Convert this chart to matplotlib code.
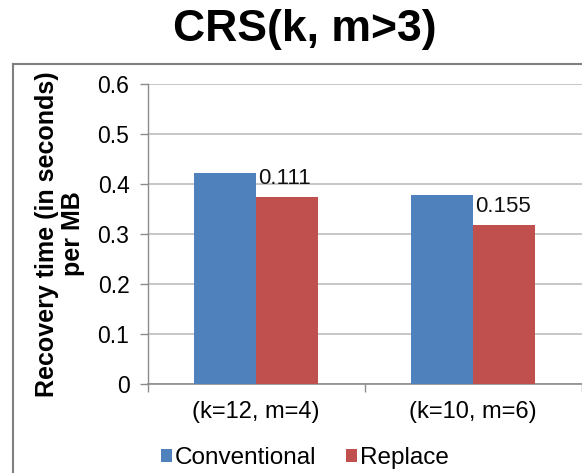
import numpy as np
import matplotlib
matplotlib.use("Agg")
import matplotlib.pyplot as plt
from matplotlib.lines import Line2D

plt.rcParams['font.family'] = ['Liberation Sans', 'DejaVu Sans']

groups = ['(k=12, m=4)', '(k=10, m=6)']
conventional = [0.423, 0.379]
replace = [0.374, 0.318]
reduction_labels = ['0.111', '0.155']
yticks = [0, 0.1, 0.2, 0.3, 0.4, 0.5, 0.6]

blue = '#4F81BD'
red = '#C0504D'
grid_gray = '#C3C3C3'
axis_gray = '#8C8C8C'

fig = plt.figure(figsize=(5.82, 4.73), dpi=100)
W, H = 582.0, 473.0
ax = fig.add_axes([147.5 / W, 1 - 384.3 / H, 434 / W, 300 / H])

x = np.arange(len(groups))
w = 0.286
ax.bar(x - w / 2, conventional, w, color=blue, label='Conventional', zorder=3)
ax.bar(x + w / 2, replace, w, color=red, label='Replace', zorder=3)

# reduction values sit just above the left corner of each Replace bar
for xi, v, txt in zip(x, replace, reduction_labels):
    ax.annotate(txt, (xi, v), xytext=(1.5, 9.5), textcoords='offset points',
                ha='left', va='baseline', fontsize=16, color='#111111', zorder=4)

ax.set_xlim(-0.5, 1.5)
ax.set_ylim(0, 0.6)
ax.set_yticks(yticks)
ax.set_yticklabels(['0' if t == 0 else f'{t:.1f}' for t in yticks])
ax.yaxis.grid(True, color=grid_gray, linewidth=1.3)
ax.set_axisbelow(True)

# boundary ticks on the category axis, labels at the centres
ax.set_xticks([-0.5, 0.5, 1.5])
ax.set_xticklabels([])
ax.set_xticks(x, minor=True)
ax.set_xticklabels(groups, minor=True)
ax.tick_params(axis='x', which='minor', length=0, pad=12, labelsize=17)
ax.tick_params(axis='x', which='major', length=6, color=axis_gray, width=1)
ax.tick_params(axis='y', length=6, color=axis_gray, width=1, pad=7, labelsize=16.5)

for s in ['top', 'right']:
    ax.spines[s].set_visible(False)
ax.spines['left'].set_color(axis_gray)
ax.spines['bottom'].set_color(axis_gray)
ax.spines['left'].set_linewidth(1)
ax.spines['bottom'].set_linewidth(1.2)

fig.text(60 / W, 1 - 234 / H, 'Recovery time (in seconds)\nper MB', rotation=90,
         ha='center', va='center', multialignment='center',
         fontsize=18, fontweight='bold', linespacing=1.15)

fig.text(305 / W, 1 - 41 / H, 'CRS(k, m>3)', ha='center', va='baseline',
         fontsize=32, fontweight='bold')

# outer frame, left and top edges
fig.add_artist(Line2D([13 / W, 13 / W], [0, 1 - 64 / H], transform=fig.transFigure,
                      color='#7F7F7F', linewidth=1.5))
fig.add_artist(Line2D([13 / W, 1], [1 - 64 / H, 1 - 64 / H], transform=fig.transFigure,
                      color='#7F7F7F', linewidth=1.5))

handles, labels = ax.get_legend_handles_labels()
fig.legend(handles, labels, loc='center', bbox_to_anchor=(305 / W, 1 - 458 / H),
           ncol=2, frameon=False, fontsize=17.5, handlelength=0.45, handleheight=0.45,
           handletextpad=0.15, columnspacing=1.2)

fig.savefig('out.png', dpi=100)
